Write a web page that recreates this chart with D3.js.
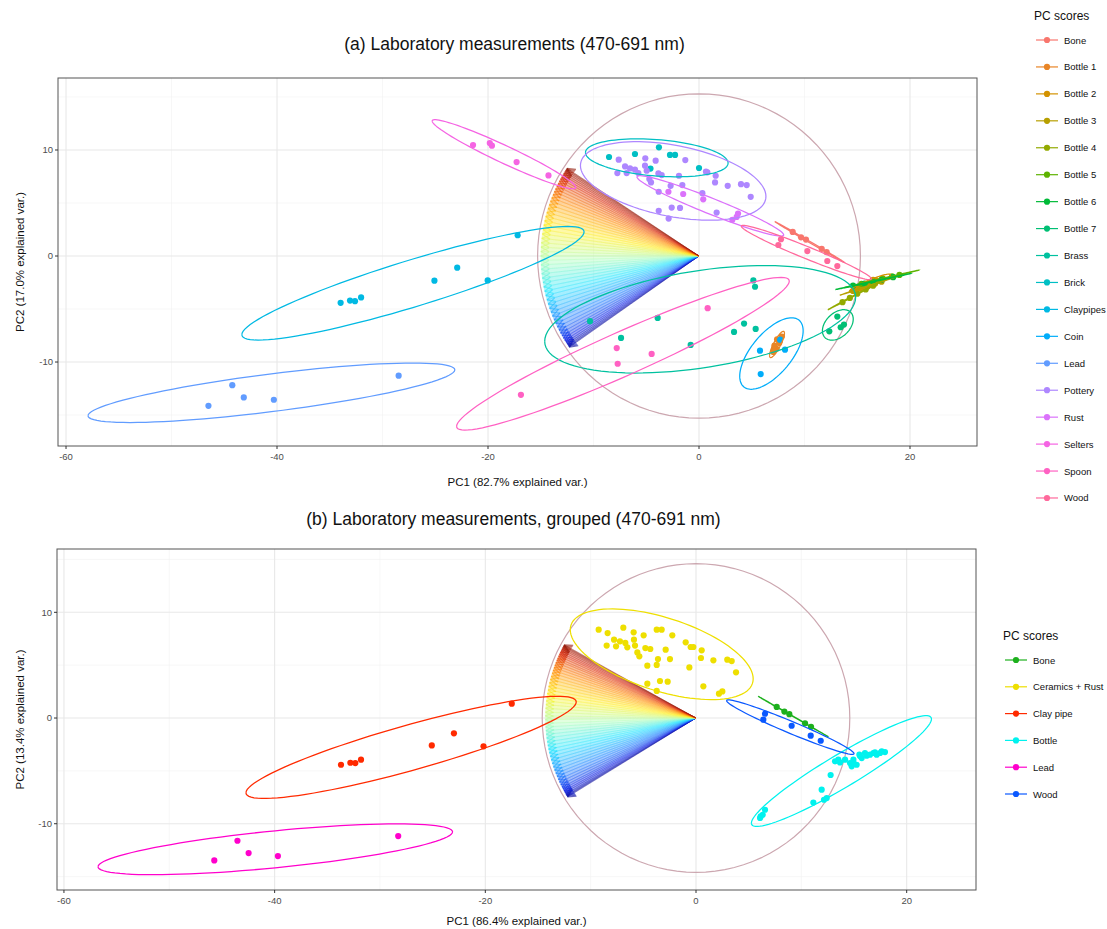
<!DOCTYPE html>
<html><head><meta charset="utf-8">
<script src="https://cdn.jsdelivr.net/npm/d3@7"></script>
<style>body{margin:0;background:#fff;} text{font-family:"Liberation Sans",Arial,Helvetica,sans-serif;}</style>
</head><body><svg id="chart" width="1107" height="929"></svg>
<script>
// ---------------- DATA ----------------
const xTicks = [-60, -40, -20, 0, 20];
const yTicks = [-10, 0, 10];
const xMinor = [-50, -30, -10, 10];
const yMinor = [-15, -5, 5, 15];

const groupNamesA = ["Bone","Bottle 1","Bottle 2","Bottle 3","Bottle 4","Bottle 5","Bottle 6","Bottle 7","Brass","Brick","Claypipes","Coin","Lead","Pottery","Rust","Selters","Spoon","Wood"];

const boneA = [[8.88,2.27],[9.67,1.76],[10.14,1.55],[11.63,0.68],[12.1,0.36]];
const bottle1A = [[7.05,-9.05],[7.35,-8.75],[7.15,-8.45],[7.6,-8.2],[7.4,-7.85],[7.85,-7.6],[7.1,-8.8],[7.65,-8.05]];
const bottle2A = [[15.0,-3.0],[15.6,-2.7],[16.2,-2.55],[16.8,-2.3],[17.4,-2.1],[15.9,-2.9],[16.5,-2.25]];
const bottle3A = [[14.6,-3.3],[15.3,-3.05],[16.0,-2.85],[16.7,-2.6],[17.3,-2.42]];
const bottle4A = [[13.6,-4.35],[14.3,-3.95],[15.0,-3.55],[15.8,-3.15],[16.5,-2.8]];
const bottle5A = [[15.4,-2.62],[16.4,-2.36],[17.4,-2.12],[18.3,-1.92],[19.0,-1.78]];
const bottle6A = [[14.6,-2.8],[15.7,-2.6],[16.5,-2.4],[17.3,-2.25],[18.4,-2.0]];
const bottle7A = [[13.11,-5.71],[12.35,-7.1],[13.43,-6.72],[13.74,-6.47]];
const brassA = [[-10.33,-6.15],[-7.39,-7.73],[-3.92,-5.84],[-0.79,-8.39],[3.32,-7.16],[4.27,-6.37],[5.15,-2.3],[5.31,-2.9],[5.37,-6.88]];
const brickA = [[-8.53,9.34],[-6.07,9.62],[-2.75,9.53],[-2.27,9.53],[0.0,8.3],[-4.6,8.25],[-3.8,10.25]];
const claypipesA = [[-33.97,-4.42],[-33.08,-4.2],[-32.61,-4.26],[-32.03,-3.91],[-25.08,-2.33],[-22.92,-1.1],[-20.03,-2.3],[-17.19,1.96]];
const coinA = [[5.78,-8.93],[8.15,-8.83],[5.85,-11.14],[7.68,-7.89]];
const leadA = [[-46.5,-14.13],[-44.24,-12.18],[-43.15,-13.34],[-40.3,-13.56],[-28.47,-11.29]];
const potteryA = [[-7.61,9.09],[-7.01,8.45],[-7.74,7.82],[-6.86,7.82],[-6.54,8.26],[-6.07,8.14],[-5.75,7.82],[-5.09,9.21],[-5.12,8.52],[-4.96,8.04],[-4.71,7.26],[-4.55,6.94],[-4.11,8.99],[-3.85,7.79],[-3.54,7.63],[-3.82,6.06],[-2.69,6.62],[-1.9,7.57],[-1.58,6.69],[-1.3,9.05],[0.32,5.93],[0.66,7.95],[0.79,7.89],[1.58,7.57],[1.52,6.94],[2.72,6.62],[3.98,6.78],[4.52,6.69],[4.9,5.58],[1.67,4.1],[-2.59,4.57],[-1.8,4.54],[-3.82,4.26],[-2.88,3.53]];
const rustA = [[-2.9,6.06],[-1.5,5.85],[0.4,5.35],[3.16,3.41],[3.57,3.69],[3.7,4.0]];
const seltersA = [[-21.42,10.47],[-19.83,10.66],[-19.63,10.41],[-17.29,8.86],[-14.27,7.6]];
const spoonA = [[-16.88,-13.09],[-7.8,-8.68],[-7.71,-10.16],[-4.49,-9.24],[0.82,-4.92]];
const woodA = [[7.52,1.04],[7.77,1.58],[10.27,0.47],[12.16,-0.47],[13.11,-0.95]];

const groupNamesB = ["Bone","Ceramics + Rust","Clay pipe","Bottle","Lead","Wood"];
const boneB = [[7.66,1.05],[8.39,0.61],[8.86,0.36],[10.35,-0.5],[10.92,-0.83]];
const ceramicsB = [[-9.24,8.36],[-8.39,8.04],[-6.9,8.55],[-5.92,8.11],[-4.97,7.82],[-3.73,8.36],[-3.26,8.36],[-2.25,7.82],[-7.78,7.41],[-7.22,7.26],[-6.71,7.1],[-8.48,6.85],[-7.59,6.78],[-6.52,6.69],[-5.89,7.41],[-5.79,6.85],[-5.57,6.21],[-5.38,5.84],[-4.81,6.62],[-4.34,6.53],[-2.88,6.47],[-0.98,7.16],[-0.51,6.72],[-0.25,6.72],[0.54,6.4],[0.47,5.68],[-3.61,5.58],[-2.47,5.58],[1.65,5.46],[2.97,5.52],[3.39,5.39],[3.8,4.32],[-4.62,4.95],[-3.73,5.02],[-0.63,4.79],[-4.62,3.25],[-3.42,3.5],[-2.69,3.44],[-3.73,2.56],[0.7,3.0],[2.18,2.3],[2.5,2.52]];
const clayB = [[-33.7,-4.42],[-32.81,-4.23],[-32.34,-4.26],[-31.8,-3.94],[-25.08,-2.59],[-22.98,-1.45],[-20.17,-2.68],[-17.49,1.36]];
const bottleB = [[6.08,-9.46],[6.33,-9.15],[6.55,-8.68],[6.14,-9.31],[11.14,-8.0],[11.93,-6.78],[12.15,-7.73],[12.41,-7.57],[12.78,-5.39],[13.2,-4.1],[13.67,-4.2],[14.15,-3.94],[14.62,-4.26],[14.94,-3.94],[14.78,-4.57],[15.25,-4.42],[15.51,-3.47],[15.73,-3.79],[16.2,-3.56],[16.52,-3.47],[16.84,-3.31],[17.15,-3.47],[17.47,-3.31],[17.94,-3.22],[16.04,-3.31],[16.99,-3.25],[17.63,-3.15],[14.94,-4.2],[15.57,-3.6],[13.51,-3.94]];
const leadB = [[-45.73,-13.47],[-43.53,-11.61],[-42.47,-12.78],[-39.69,-13.06],[-28.27,-11.17]];
const woodB = [[6.55,0.41],[6.39,-0.16],[9.08,-0.73],[10.89,-1.67],[11.84,-2.15]];

// wavelength loadings (nm) and their biplot arrow angles (degrees)
const wavelengths = [470,474,478,482,486,490,494,498,502,506,510,514,518,522,526,530,534,538,542,546,550,554,558,562,566,570,574,578,582,586,590,594,598,602,606,610,614,618,622,626,630,634,638,642,646,650,654,658,662,666,670,674,678,682,686,691];
const anglesA = [215.0,214.6,214.1,213.5,212.8,212.0,211.1,210.1,209.0,207.8,206.5,205.1,203.7,202.2,200.7,199.2,197.6,196.0,194.4,192.8,191.2,189.6,188.0,186.4,184.8,183.2,181.6,180.0,178.4,176.8,175.2,173.6,172.0,170.4,168.8,167.2,165.6,164.1,162.6,161.2,159.8,158.5,157.3,156.1,155.0,153.9,152.9,151.9,151.0,150.2,149.4,148.7,148.0,147.4,146.9,146.5];
const anglesB = [211.5,211.1,210.7,210.2,209.5,208.8,208.0,207.2,206.2,205.1,204.0,202.7,201.5,200.2,198.9,197.5,196.1,194.7,193.3,191.9,190.5,189.1,187.6,186.2,184.8,183.4,182.0,180.6,179.2,177.8,176.3,174.9,173.5,172.1,170.7,169.3,167.9,166.5,165.2,164.0,162.7,161.6,160.5,159.5,158.5,157.5,156.7,155.8,155.0,154.3,153.6,152.9,152.3,151.8,151.4,151.0];

// ---------------- STYLE ----------------
function hclLuv(h, c, l) {
  const hr = h * Math.PI / 180, U = c * Math.cos(hr), V = c * Math.sin(hr);
  const Xn = 95.047, Yn = 100, Zn = 108.883;
  const Y = Yn * (l > 8 ? Math.pow((l + 16) / 116, 3) : l / 903.3);
  const t = Xn + 15 * Yn + 3 * Zn, un = 4 * Xn / t, vn = 9 * Yn / t;
  const u = U / (13 * l) + un, v = V / (13 * l) + vn;
  const X = 9 * Y * u / (4 * v), Z = Y * (12 - 3 * u - 20 * v) / (4 * v);
  const x = X / 100, y = Y / 100, z = Z / 100;
  const lin = [3.2404542*x - 1.5371385*y - 0.4985314*z, -0.9692660*x + 1.8760108*y + 0.0415560*z, 0.0556434*x - 0.2040259*y + 1.0572252*z];
  const g = lin.map(q => { q = Math.max(0, Math.min(1, q)); return q <= 0.0031308 ? 12.92 * q : 1.055 * Math.pow(q, 1 / 2.4) - 0.055; });
  return d3.rgb(g[0] * 255, g[1] * 255, g[2] * 255).formatHex();
}
const colorsA = groupNamesA.map((n, i) => hclLuv(15 + 20 * i, 100, 65));
const colorsB = ["#1DB01D", "#EEDF00", "#FF2A00", "#00F2EE", "#FF00CC", "#0A58FF"];
const jet = d3.scaleLinear().domain([470, 490, 515, 545, 575, 605, 635, 665, 691])
  .range(["#0A0A96","#0A1EE6","#1E82FF","#1EE6FF","#B4FFB4","#FFF01E","#FF8C0A","#DC280A","#8C1405"]);

const svg = d3.select("#chart");
const ED = 2.4477; // sqrt(qchisq(0.95, 2))

const panelA = {left:58, right:977, top:78, bottom:446, xdom:[-60.76,26.35], ydom:[-17.92,16.79],
  groups: [boneA,bottle1A,bottle2A,bottle3A,bottle4A,bottle5A,bottle6A,bottle7A,brassA,brickA,claypipesA,coinA,leadA,potteryA,rustA,seltersA,spoonA,woodA],
  names: groupNamesA, colors: colorsA, angles: anglesA, arrowLen: 15.0, circleR: 15.3,
  title: "(a) Laboratory measurements (470-691 nm)", titleY: 50,
  xlab: "PC1 (82.7% explained var.)", xlabY: 486, ylab: "PC2 (17.0% explained var.)"};
const panelB = {left:57, right:976, top:549, bottom:890, xdom:[-60.66,26.58], ydom:[-16.27,15.99],
  groups: [boneB,ceramicsB,clayB,bottleB,leadB,woodB],
  names: groupNamesB, colors: colorsB, angles: anglesB, arrowLen: 14.3, circleR: 14.6,
  title: "(b) Laboratory measurements, grouped (470-691 nm)", titleY: 525,
  xlab: "PC1 (86.4% explained var.)", xlabY: 925, ylab: "PC2 (13.4% explained var.)"};

function ellipse(pts) {
  const n = pts.length;
  const mx = d3.mean(pts, p => p[0]), my = d3.mean(pts, p => p[1]);
  let sxx = 0, sxy = 0, syy = 0;
  pts.forEach(p => { const dx = p[0] - mx, dy = p[1] - my; sxx += dx*dx; sxy += dx*dy; syy += dy*dy; });
  sxx /= (n - 1); sxy /= (n - 1); syy /= (n - 1);
  const r11 = Math.sqrt(sxx), r12 = sxy / r11, r22 = Math.sqrt(Math.max(0, syy - r12 * r12));
  return d3.range(101).map(i => { const t = -Math.PI + 2 * Math.PI * i / 100, c = Math.cos(t), s = Math.sin(t);
    return [mx + ED * c * r11, my + ED * (c * r12 + s * r22)]; });
}

function drawPanel(P, id) {
  const x = d3.scaleLinear().domain(P.xdom).range([P.left, P.right]);
  const y = d3.scaleLinear().domain(P.ydom).range([P.bottom, P.top]);
  const g = svg.append("g");
  g.append("clipPath").attr("id", "clip" + id).append("rect")
    .attr("x", P.left).attr("y", P.top).attr("width", P.right - P.left).attr("height", P.bottom - P.top);
  const grid = g.append("g");
  xMinor.forEach(v => grid.append("line").attr("x1", x(v)).attr("x2", x(v)).attr("y1", P.top).attr("y2", P.bottom).attr("stroke", "#F2F2F2").attr("stroke-width", 0.6));
  yMinor.forEach(v => grid.append("line").attr("y1", y(v)).attr("y2", y(v)).attr("x1", P.left).attr("x2", P.right).attr("stroke", "#F2F2F2").attr("stroke-width", 0.6));
  xTicks.forEach(v => grid.append("line").attr("x1", x(v)).attr("x2", x(v)).attr("y1", P.top).attr("y2", P.bottom).attr("stroke", "#E8E8E8").attr("stroke-width", 1.1));
  yTicks.forEach(v => grid.append("line").attr("y1", y(v)).attr("y2", y(v)).attr("x1", P.left).attr("x2", P.right).attr("stroke", "#E8E8E8").attr("stroke-width", 1.1));

  const plot = g.append("g").attr("clip-path", "url(#clip" + id + ")");
  plot.append("path").attr("d", d3.line()(d3.range(101).map(i => { const t = 2*Math.PI*i/100; return [x(P.circleR*Math.cos(t)), y(P.circleR*Math.sin(t))]; })))
    .attr("fill", "none").attr("stroke", "#CCA7B0").attr("stroke-width", 1.2);
  const tips = P.angles.map((a, i) => { const r = a * Math.PI / 180; return {w: wavelengths[i], px: x(P.arrowLen*Math.cos(r)), py: y(P.arrowLen*Math.sin(r))}; });
  const ox = x(0), oy = y(0);
  const fan = plot.append("g");
  for (let i = 0; i < tips.length - 1; i++) {
    const c = jet((tips[i].w + tips[i+1].w) / 2);
    fan.append("path").attr("d", `M${ox},${oy}L${tips[i].px},${tips[i].py}L${tips[i+1].px},${tips[i+1].py}Z`)
      .attr("fill", c).attr("fill-opacity", 0.4).attr("stroke", c).attr("stroke-opacity", 0.4).attr("stroke-width", 0.3);
  }
  tips.forEach(t => {
    fan.append("line").attr("x1", ox).attr("y1", oy).attr("x2", t.px).attr("y2", t.py)
      .attr("stroke", jet(t.w)).attr("stroke-opacity", 0.4).attr("stroke-width", 0.7);
    const ang = Math.atan2(oy - t.py, ox - t.px), hl = 9;
    [-0.45, 0.45].forEach(d => {
      fan.append("line").attr("x1", t.px).attr("y1", t.py)
        .attr("x2", t.px + hl * Math.cos(ang + d)).attr("y2", t.py + hl * Math.sin(ang + d))
        .attr("stroke", jet(t.w)).attr("stroke-opacity", 0.6).attr("stroke-width", 1.2);
    });
  });
  P.groups.forEach((pts, gi) => {
    plot.append("g").selectAll("circle").data(pts).join("circle")
      .attr("cx", d => x(d[0])).attr("cy", d => y(d[1])).attr("r", 3.1).attr("fill", P.colors[gi]);
  });
  P.groups.forEach((pts, gi) => {
    plot.append("path").attr("d", d3.line().x(d => x(d[0])).y(d => y(d[1]))(ellipse(pts)))
      .attr("fill", "none").attr("stroke", P.colors[gi]).attr("stroke-width", 1.25);
  });
  g.append("rect").attr("x", P.left).attr("y", P.top).attr("width", P.right - P.left).attr("height", P.bottom - P.top)
    .attr("fill", "none").attr("stroke", "#555").attr("stroke-width", 1);
  xTicks.forEach(v => {
    g.append("line").attr("x1", x(v)).attr("x2", x(v)).attr("y1", P.bottom).attr("y2", P.bottom + 3).attr("stroke", "#333");
    g.append("text").attr("x", x(v)).attr("y", P.bottom + 14).attr("text-anchor", "middle").attr("font-size", 9.5).attr("fill", "#4D4D4D").text(v);
  });
  yTicks.forEach(v => {
    g.append("line").attr("x1", P.left - 3).attr("x2", P.left).attr("y1", y(v)).attr("y2", y(v)).attr("stroke", "#333");
    g.append("text").attr("x", P.left - 5).attr("y", y(v) + 3.4).attr("text-anchor", "end").attr("font-size", 9.5).attr("fill", "#4D4D4D").text(v);
  });
  const cx = (P.left + P.right) / 2;
  g.append("text").attr("x", cx - 3).attr("y", P.titleY).attr("text-anchor", "middle").attr("font-size", 17.5).attr("fill", "#111").text(P.title);
  g.append("text").attr("x", cx).attr("y", P.xlabY).attr("text-anchor", "middle").attr("font-size", 11.5).attr("fill", "#111").text(P.xlab);
  g.append("text").attr("transform", `translate(24,${(P.top + P.bottom) / 2}) rotate(-90)`).attr("text-anchor", "middle").attr("font-size", 11.5).attr("fill", "#111").text(P.ylab);
}
drawPanel(panelA, "A");
drawPanel(panelB, "B");

function legend(names, colors, lx, ty, y0, step) {
  const g = svg.append("g");
  g.append("text").attr("x", lx).attr("y", ty).attr("font-size", 12).attr("fill", "#111").text("PC scores");
  names.forEach((n, i) => {
    const yy = y0 + i * step;
    g.append("line").attr("x1", lx + 2).attr("x2", lx + 24).attr("y1", yy).attr("y2", yy).attr("stroke", colors[i]).attr("stroke-width", 1.2);
    g.append("circle").attr("cx", lx + 13).attr("cy", yy).attr("r", 3.1).attr("fill", colors[i]);
    g.append("text").attr("x", lx + 30).attr("y", yy + 3.5).attr("font-size", 9.5).attr("fill", "#111").text(n);
  });
}
legend(groupNamesA, colorsA, 1034, 19.5, 40, 26.94);
legend(groupNamesB, colorsB, 1003, 640, 660, 26.8);
</script></body></html>
